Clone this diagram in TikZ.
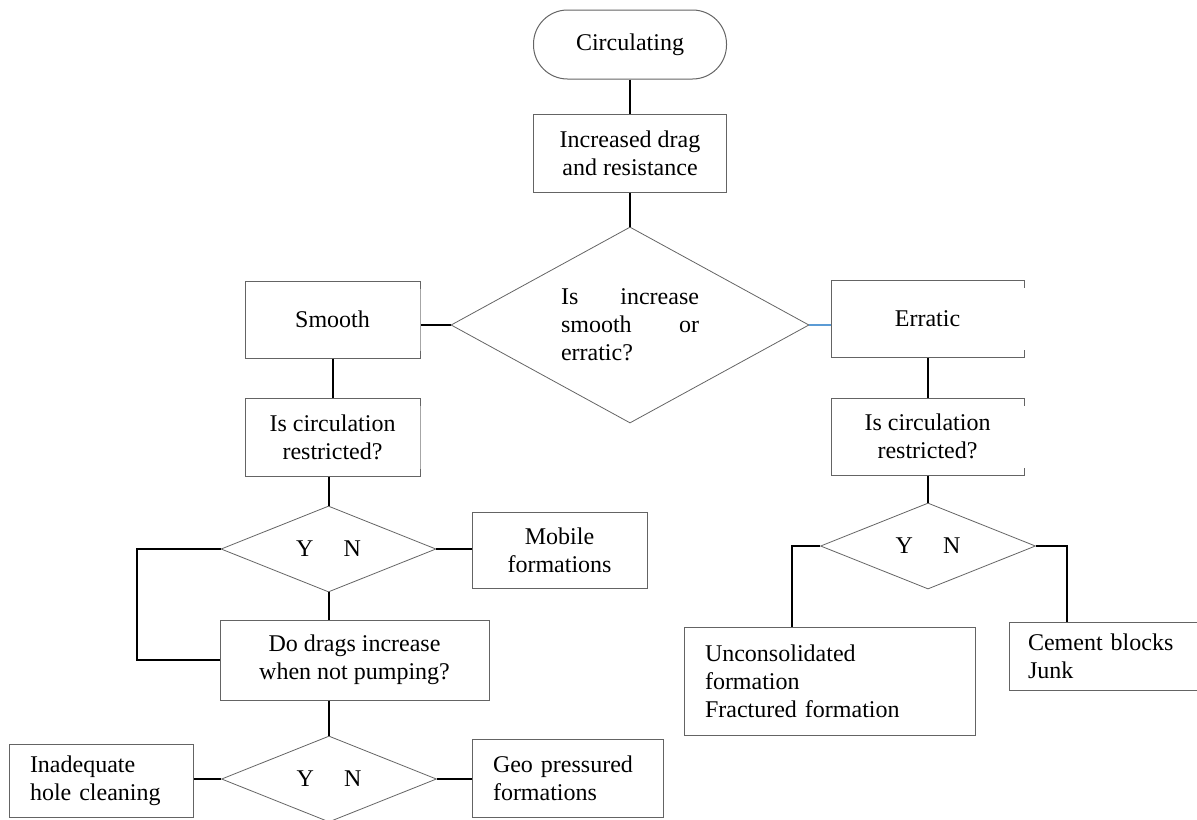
\documentclass[tikz,border=0pt]{standalone}
\usepackage{fontspec}
\setmainfont{Liberation Serif}
\usetikzlibrary{shapes.geometric}

\definecolor{boxgray}{RGB}{100,100,100}
\definecolor{linkblue}{RGB}{91,155,213}

\tikzset{
  txt/.style={font=\fontsize{12}{14}\selectfont},
  box/.style={txt, rectangle, draw=boxgray, line width=0.5pt, align=center, inner sep=0pt},
  lbox/.style={box, align=left, inner xsep=10.5pt},
  term/.style={box, rounded corners=17pt},
  decision/.style={txt, diamond, draw=boxgray, line width=0.4pt, inner sep=0pt},
  yn/.style={decision, minimum width=107.5pt, minimum height=43pt, shape aspect=2.5},
  link/.style={line width=1pt, black},
}

\begin{document}
\begin{tikzpicture}[x=0.5pt, y=-0.5pt]
  \useasboundingbox (0,0) rectangle (1197,819);

  % Start and first check
  \node[term, minimum width=96.5pt, minimum height=34.5pt] (circ) at (630,44.5) {Circulating};
  \node[box, minimum width=96.5pt, minimum height=39pt] (drag) at (630,153) {Increased drag\\and resistance};

  % Main decision
  \node[decision, minimum width=179pt, minimum height=98pt, shape aspect=1.8,
        text width=69pt, align=left] (q1) at (630,325)
    {Is\hfill increase\\ smooth\hfill or\\ erratic?};

  % Two branches
  \node[box, minimum width=87.5pt, minimum height=38.5pt] (smooth) at (332.5,319.5) {Smooth};
  \node[box, minimum width=96.5pt, minimum height=38.5pt] (err) at (927.5,318.5) {Erratic};
  \node[box, minimum width=87.5pt, minimum height=39pt] (ic1) at (332.5,437) {Is circulation\\restricted?};
  \node[box, minimum width=96.5pt, minimum height=38.5pt] (ic2) at (927.5,436.5) {Is circulation\\restricted?};

  % Y/N decisions
  \node[yn] (yn1) at (328.5,549) {Y\quad\ N};
  \node[yn] (yn2) at (329,779) {Y\quad\ N};
  \node[yn] (yn3) at (928,546) {Y\quad\ N};

  % Outcomes
  \node[box, minimum width=87.5pt, minimum height=38pt] (mob) at (559.5,550) {Mobile\\formations};
  \node[box, minimum width=134.5pt, minimum height=40pt] (dd) at (354.5,660) {Do drags increase\\when not pumping?};
  \node[lbox, text width=71pt, minimum height=36.5pt] (inad) at (101,780.5) {Inadequate\\hole cleaning};
  \node[lbox, text width=74.5pt, minimum height=39pt] (geo) at (567.5,778) {Geo pressured\\formations};
  \node[lbox, text width=124.5pt, minimum height=54pt] (unc) at (829.5,681) {Unconsolidated\\formation\\Fractured formation};
  \node[lbox, text width=76.5pt, inner xsep=9.5pt, minimum height=34pt] (cem) at (1104.5,656) {Cement blocks\\Junk};

  % Faint right edges
  \foreach \n in {smooth, ic1, err, ic2}
    \draw[white, line width=1pt] ([yshift=-4pt]\n.north east) -- ([yshift=4pt]\n.south east);
  \foreach \n in {smooth, ic1}
    \draw[black!35, line width=0.5pt] ([yshift=-4pt]\n.north east) -- ([yshift=4pt]\n.south east);

  % Connectors
  \draw[link] (circ) -- (drag);
  \draw[link] (drag) -- (q1);
  \draw[link] (q1.west) -- (q1.west -| smooth.east);
  \draw[link, draw=linkblue, line width=0.6pt] (q1.east) -- (q1.east -| err.west);
  \draw[link] (smooth) -- (ic1);
  \draw[link] (err) -- (ic2);
  \draw[link] (ic1.south -| yn1.north) -- (yn1.north);
  \draw[link] (ic2.south -| yn3.north) -- (yn3.north);

  \coordinate (loop) at (137,549);
  \draw[link] (yn1.west) -- (loop) |- (dd.west);
  \draw[link] (yn1.east) -- (yn1.east -| mob.west);
  \draw[link] (yn1.south) -- (yn1.south |- dd.north);
  \draw[link] (dd.south -| yn2.north) -- (yn2.north);
  \draw[link] (yn2.west) -- (yn2.west -| inad.east);
  \draw[link] (yn2.east) -- (yn2.east -| geo.west);

  \draw[link] (yn3.west) -| ([xshift=-14pt]yn3.west |- unc.north);
  \draw[link] (yn3.east) -| ([xshift=15.5pt]yn3.east |- cem.north);
\end{tikzpicture}
\end{document}
